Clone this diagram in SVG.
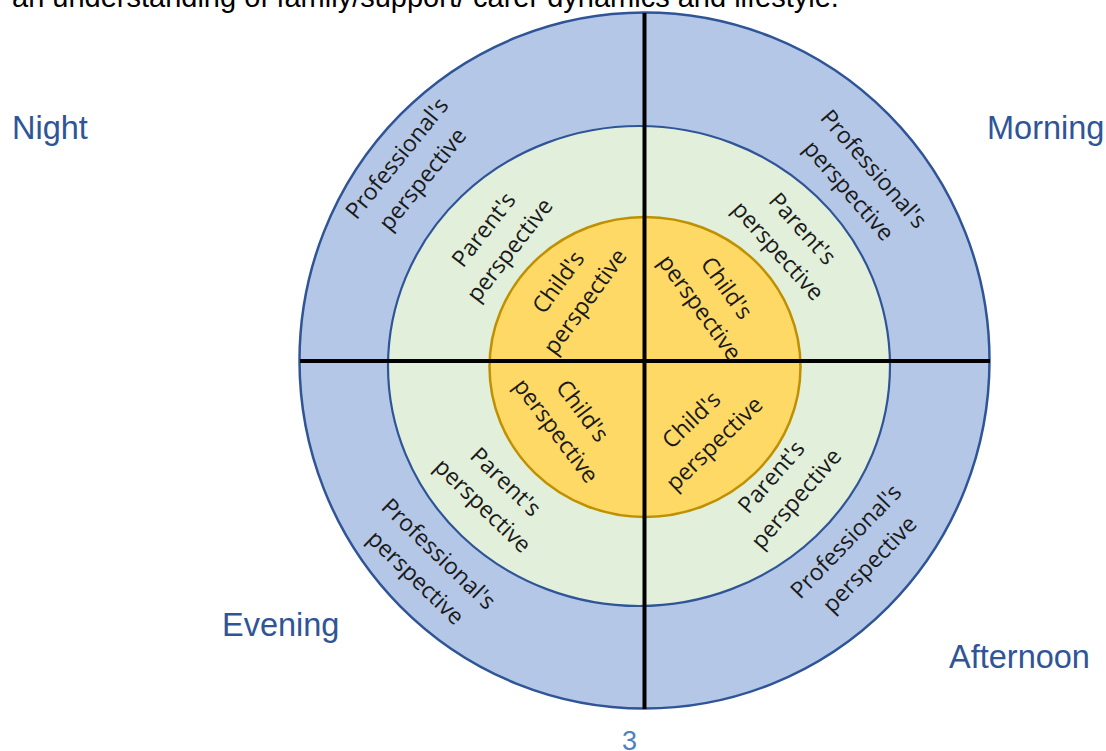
<svg xmlns="http://www.w3.org/2000/svg" width="1106" height="751" viewBox="0 0 1106 751">
  <style>
    .ring-outer { fill: #B4C7E7; stroke: #2F5597; stroke-width: 2.5; }
    .ring-mid { fill: #E2EFDA; stroke: #2F5597; stroke-width: 2.2; }
    .ring-inner { fill: #FFD966; stroke: #BF9000; stroke-width: 2.5; }
    .axis { stroke: #000; stroke-width: 4; }
    .lbl { font-family: "Open Sans", "Noto Sans", sans-serif; font-size: 23px; fill: #1a1a1a; text-anchor: middle; }
    .time { font-family: "Liberation Sans", Arial, sans-serif; font-size: 32.5px; fill: #2F5597; }
    .body { font-family: "Liberation Sans", Arial, sans-serif; font-size: 29px; fill: #000; }
    .page { font-family: "Liberation Sans", Arial, sans-serif; font-size: 27px; fill: #4F81BD; }
  </style>

  <text class="body" x="12" y="7">an understanding of family/support/ carer dynamics and lifestyle.</text>

  <g id="rings">
    <ellipse id="ring-professional" class="ring-outer" cx="644.5" cy="360.5" rx="345" ry="348"/>
    <ellipse id="ring-parent" class="ring-mid" cx="639" cy="366" rx="251" ry="240"/>
    <ellipse id="ring-child" class="ring-inner" cx="645" cy="367" rx="155.5" ry="150"/>
  </g>

  <g id="axes">
    <line class="axis" x1="644.5" y1="13" x2="644.5" y2="709"/>
    <line class="axis" x1="300" y1="361" x2="990" y2="361"/>
  </g>

  <!-- Night quadrant (upper left) -->
  <g id="night">
    <text class="lbl" transform="translate(410,169) rotate(-51)"><tspan x="0" y="-9">Professional's</tspan><tspan x="0" y="24">perspective</tspan></text>
    <text class="lbl" transform="translate(497,240) rotate(-52)"><tspan x="0" y="-9">Parent's</tspan><tspan x="0" y="24">perspective</tspan></text>
    <text class="lbl" transform="translate(572,292) rotate(-54)"><tspan x="0" y="-9">Child's</tspan><tspan x="0" y="24">perspective</tspan></text>
  </g>

  <!-- Morning quadrant (upper right) -->
  <g id="morning">
    <text class="lbl" transform="translate(861,180) rotate(49)"><tspan x="0" y="-9">Professional's</tspan><tspan x="0" y="24">perspective</tspan></text>
    <text class="lbl" transform="translate(790,240) rotate(48)"><tspan x="0" y="-9">Parent's</tspan><tspan x="0" y="24">perspective</tspan></text>
    <text class="lbl" transform="translate(713,298) rotate(54)"><tspan x="0" y="-9">Child's</tspan><tspan x="0" y="24">perspective</tspan></text>
  </g>

  <!-- Evening quadrant (lower left) -->
  <g id="evening">
    <text class="lbl" transform="translate(427,566) rotate(44)"><tspan x="0" y="-9">Professional's</tspan><tspan x="0" y="24">perspective</tspan></text>
    <text class="lbl" transform="translate(494,494) rotate(44)"><tspan x="0" y="-9">Parent's</tspan><tspan x="0" y="24">perspective</tspan></text>
    <text class="lbl" transform="translate(569,421) rotate(53)"><tspan x="0" y="-9">Child's</tspan><tspan x="0" y="24">perspective</tspan></text>
  </g>

  <!-- Afternoon quadrant (lower right) -->
  <g id="afternoon">
    <text class="lbl" transform="translate(858,553) rotate(-46)"><tspan x="0" y="-9">Professional's</tspan><tspan x="0" y="24">perspective</tspan></text>
    <text class="lbl" transform="translate(784,488) rotate(-49)"><tspan x="0" y="-9">Parent's</tspan><tspan x="0" y="24">perspective</tspan></text>
    <text class="lbl" transform="translate(703,432) rotate(-44)"><tspan x="0" y="-9">Child's</tspan><tspan x="0" y="24">perspective</tspan></text>
  </g>

  <g id="time-labels">
    <text id="label-night" class="time" x="12" y="139">Night</text>
    <text id="label-morning" class="time" x="987" y="139">Morning</text>
    <text id="label-evening" class="time" x="222" y="636">Evening</text>
    <text id="label-afternoon" class="time" x="949" y="668">Afternoon</text>
  </g>

  <text class="page" x="622" y="750">3</text>
</svg>
